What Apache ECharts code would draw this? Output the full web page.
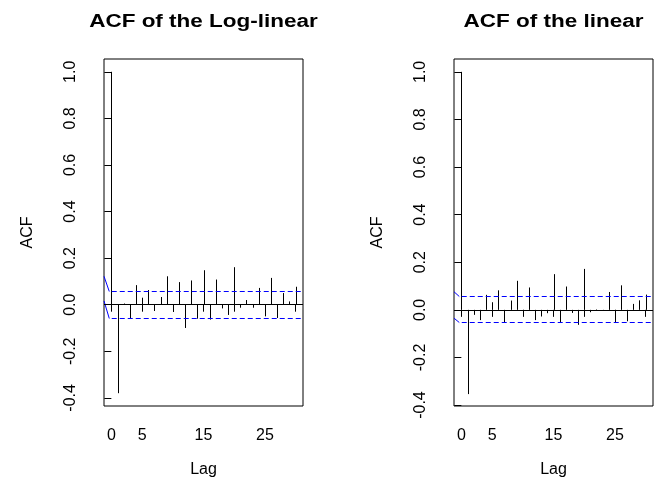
<!DOCTYPE html>
<html>
<head>
<meta charset="utf-8">
<script src="https://cdn.jsdelivr.net/npm/echarts@6/dist/echarts.min.js"></script>
<style>
html,body{margin:0;padding:0;background:#fff;}
#chart{width:659px;height:483px;}
</style>
</head>
<body>
<div id="chart"></div>
<script>
// ---- data ----
const lags = [0,1,2,3,4,5,6,7,8,9,10,11,12,13,14,15,16,17,18,19,20,21,22,23,24,25,26,27,28,29,30];
const logLinearAcf = [1, -0.38, 0.005, -0.06, 0.084, 0.03, 0.063, -0.027, 0.033, 0.122, -0.031, 0.097, -0.1, 0.104, -0.06, 0.148, -0.064, 0.108, -0.016, -0.044, 0.161, -0.013, 0.02, -0.013, 0.072, -0.05, 0.115, -0.057, 0.05, 0.014, 0.077];
const linearAcf = [1, -0.354, -0.021, -0.043, 0.063, 0.032, 0.082, -0.052, 0.039, 0.122, -0.024, 0.094, -0.043, -0.028, -0.014, 0.15, -0.052, 0.098, -0.013, -0.063, 0.172, -0.01, 0.002, -0.004, 0.075, -0.052, 0.103, -0.048, 0.025, 0.04, 0.064];
// confidence band levels [upper, lower] and their values at the left plot edge
const logLinearCi = [0.057, -0.055];
const logLinearCiEdge = [0.122, 0.016];
const linearCi = [0.058, -0.053];
const linearCiEdge = [0.076, -0.035];
const yTicks = [-0.4, -0.2, 0, 0.2, 0.4, 0.6, 0.8, 1.0];
const xTicks = [0, 5, 10, 15, 20, 25, 30];
const xTickLabels = [0, 5, 15, 25];
const titles = ['ACF of the Log-linear', 'ACF of the linear'];
const xName = 'Lag';
const yName = 'ACF';

// ---- layout ----
const FONT = 'Liberation Sans, Arial, Helvetica, sans-serif';
const XMIN = -1.2, XMAX = 31.2, CI_BREAK = -0.34;
const panels = [
  {left: 104, width: 199, ymin: -0.435, ymax: 1.055, acf: logLinearAcf, ci: logLinearCi, edge: logLinearCiEdge, title: titles[0]},
  {left: 454, width: 199, ymin: -0.404, ymax: 1.054, acf: linearAcf, ci: linearCi, edge: linearCiEdge, title: titles[1]}
];

const chart = echarts.init(document.getElementById('chart'), null, {renderer: 'canvas'});
const crisp = v => Math.round(v) + 0.5;

const grid = [], xAxis = [], yAxis = [], series = [], graphic = [];
panels.forEach((p, i) => {
  grid.push({left: p.left, top: 59, width: p.width, height: 349, show: true, borderColor: '#000', borderWidth: 1, backgroundColor: 'transparent'});
  graphic.push({type: 'text', x: p.left + p.width / 2, y: 22, scaleX: 1.25, silent: true,
    style: {text: p.title, fill: '#000', fontFamily: FONT, fontWeight: 'bold', fontSize: 18, align: 'center', verticalAlign: 'middle'}});
  xAxis.push({type: 'value', gridIndex: i, min: XMIN, max: XMAX,
    name: xName, nameLocation: 'middle', nameGap: 56,
    nameTextStyle: {fontFamily: FONT, fontSize: 16, color: '#000'},
    splitLine: {show: false}, axisLine: {show: false},
    axisTick: {show: true, inside: false, length: 7, lineStyle: {color: '#000'}, customValues: xTicks},
    axisLabel: {show: true, customValues: xTickLabels, margin: 22, fontFamily: FONT, fontSize: 16, color: '#000'}});
  yAxis.push({type: 'value', gridIndex: i, min: p.ymin, max: p.ymax,
    name: yName, nameLocation: 'middle', nameGap: 68, nameRotate: 90,
    nameTextStyle: {fontFamily: FONT, fontSize: 16, color: '#000'},
    splitLine: {show: false}, axisLine: {show: false},
    axisTick: {show: true, inside: false, length: 7, lineStyle: {color: '#000'}, customValues: yTicks},
    axisLabel: {show: true, customValues: yTicks, rotate: 90, margin: 25, fontFamily: FONT, fontSize: 16, color: '#000',
      formatter: v => v.toFixed(1)}});
  // acf spikes
  series.push({type: 'custom', xAxisIndex: i, yAxisIndex: i, silent: true,
    data: lags.map((l, k) => [l, p.acf[k]]),
    renderItem: function (params, api) {
      const x = api.value(0), v = api.value(1);
      const a = api.coord([x, 0]), b = api.coord([x, v]);
      const px = crisp(a[0]);
      return {type: 'line', shape: {x1: px, y1: a[1], x2: px, y2: b[1]}, style: {stroke: '#000', lineWidth: 1}};
    },
    markLine: {silent: true, symbol: 'none', label: {show: false},
      lineStyle: {color: '#000', type: 'solid', width: 1}, data: [{yAxis: 0}]}
  });
  // confidence bands: solid edge segment then dashed level line
  series.push({type: 'custom', xAxisIndex: i, yAxisIndex: i, silent: true,
    data: [[p.ci[0], p.edge[0]], [p.ci[1], p.edge[1]]],
    renderItem: function (params, api) {
      const level = api.value(0), edge = api.value(1);
      const e = api.coord([XMIN, edge]);
      const b = api.coord([CI_BREAK, level]);
      const s = api.coord([CI_BREAK + 0.4, level]);
      const r = api.coord([XMAX, level]);
      const y = crisp(b[1]);
      return {type: 'group', children: [
        {type: 'line', shape: {x1: e[0], y1: e[1], x2: b[0], y2: y}, style: {stroke: '#0000ff', lineWidth: 1}},
        {type: 'line', shape: {x1: s[0], y1: y, x2: r[0], y2: y}, style: {stroke: '#0000ff', lineWidth: 1, lineDash: [5, 3]}}
      ]};
    }
  });
});

chart.setOption({animation: false, backgroundColor: '#fff', graphic, grid, xAxis, yAxis, series});
</script>
</body>
</html>
